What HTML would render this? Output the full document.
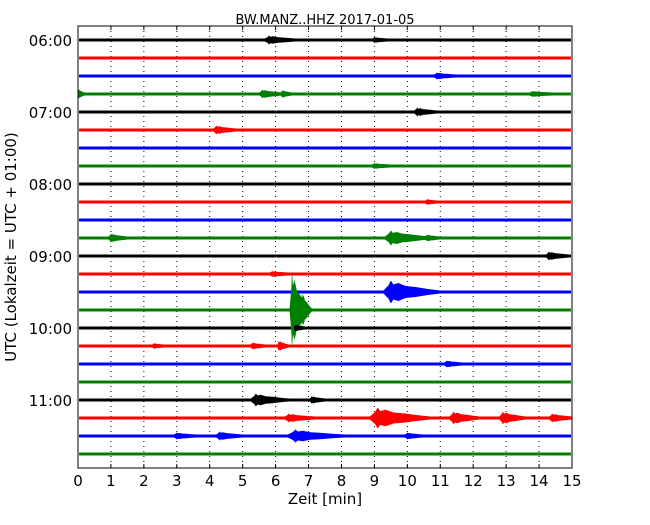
<!DOCTYPE html>
<html><head><meta charset="utf-8"><style>
body{margin:0;background:#fff;}
svg text{font-family:"DejaVu Sans","Liberation Sans",sans-serif;}
</style></head><body>
<svg width="650" height="520" xmlns="http://www.w3.org/2000/svg">
<rect width="650" height="520" fill="#fff"/>
<g id="grid"></g>
<g id="traces"></g>
<rect x="78" y="26" width="494" height="442" fill="none" stroke="#000" stroke-width="1"/>
<g id="axes"></g>
<text x="325" y="24" font-size="13" text-anchor="middle">BW.MANZ..HHZ 2017-01-05</text>
<text x="325" y="504" font-size="15" text-anchor="middle">Zeit  [min]</text>
<text transform="translate(16,247) rotate(-90)" font-size="15" text-anchor="middle">UTC (Lokalzeit = UTC + 01:00)</text>
</svg>
<script>
const xTicks=[0,1,2,3,4,5,6,7,8,9,10,11,12,13,14,15];
const yTickLabels=["06:00","07:00","08:00","09:00","10:00","11:00"];
const traceCount=24;
const traceColors=["#000000","#ff0000","#0000ff","#008000"];
// events: trace index, start minute, duration minutes, amplitude (relative units)
const evTrace=[0,0,2,3,3,3,3,4,5,7,9,11,11,11,12,13,14,15,15,16,17,17,17,18,20,20,21,21,21,21,21,22,22,22,22];
const evStart=[5.8,9.0,10.9,0.0,5.6,6.2,13.8,10.3,4.2,9.0,10.6,1.0,9.5,10.6,14.3,5.9,9.5,6.5,6.8,6.6,2.3,5.3,6.1,11.2,5.4,7.1,6.4,9.1,11.4,12.9,14.4,3.0,4.3,6.6,10.0];
const evDur=[0.8,0.4,0.6,0.2,0.6,0.3,0.6,0.6,0.6,0.5,0.3,0.5,1.2,0.4,0.6,0.5,1.5,0.5,0.3,0.3,0.3,0.4,0.3,0.5,1.0,0.4,0.8,1.6,0.8,0.7,0.6,0.6,0.7,1.5,0.5];
const evAmp=[3,1.5,2,4,3,2.5,1.5,3,3,1.5,1.5,3,6,2,3,1.5,10,38,18,2,1.5,2,4,2,5,2.5,3,9,5,5,3,2,3,5,2];

const NS="http://www.w3.org/2000/svg";
const X0=78,X1=572,Y0=26,Y1=468,T0=40,DT=18;
const xs=m=>X0+m*(X1-X0)/15;
const ys=i=>T0+i*DT;
function mk(tag,attrs,parent){const e=document.createElementNS(NS,tag);for(const k in attrs)e.setAttribute(k,attrs[k]);parent.appendChild(e);return e;}
const grid=document.getElementById('grid'),tr=document.getElementById('traces'),ax=document.getElementById('axes');
xTicks.forEach(t=>{
  if(t>0&&t<15){const l=mk('line',{x1:xs(t),x2:xs(t),y1:Y0,y2:Y1,stroke:'#000','stroke-width':1,'stroke-dasharray':'1,4'},grid);
  
  
  mk('line',{x1:xs(t),x2:xs(t),y1:Y0,y2:Y0+4,stroke:'#000'},ax);
  mk('line',{x1:xs(t),x2:xs(t),y1:Y1-4,y2:Y1,stroke:'#000'},ax);}
  const tk=mk('text',{x:xs(t),y:Y1+18,'font-size':15,'text-anchor':'middle'},ax);tk.textContent=t;
  
  
});
yTickLabels.forEach((lab,k)=>{
  const y=ys(k*4);
  const tk=mk('text',{x:72,y:y+6,'font-size':15,'text-anchor':'end'},ax);tk.textContent=lab;
  
  
});
for(let i=0;i<traceCount;i++){
  const c=traceColors[i%4];
  const l=mk('line',{x1:X0+1,x2:X1-1,y1:ys(i),y2:ys(i),stroke:c,'stroke-width':3},tr);
  
  
}
for(let k=0;k<evTrace.length;k++){
  const i=evTrace[k],c=traceColors[i%4],y=ys(i),a=evAmp[k];
  const s=evStart[k],d=evDur[k];
  const pts=[[s-d*0.15,0],[s-d*0.05,a*0.5],[s,a],[s+d*0.05,a*0.6],[s+d*0.15,a*0.75],[s+d*0.3,a*0.45],[s+d*0.5,a*0.35],[s+d*0.75,a*0.15],[s+d,0]];
  const up=pts.map(p=>xs(Math.max(0,Math.min(15,p[0])))+','+(y-1.5-p[1]));
  const dn=pts.slice().reverse().map(p=>xs(Math.max(0,Math.min(15,p[0])))+','+(y+1.5+p[1]));
  const pg=mk('polygon',{points:up.concat(dn).join(' '),fill:c},tr);
  
  
}
</script>
</body></html>
